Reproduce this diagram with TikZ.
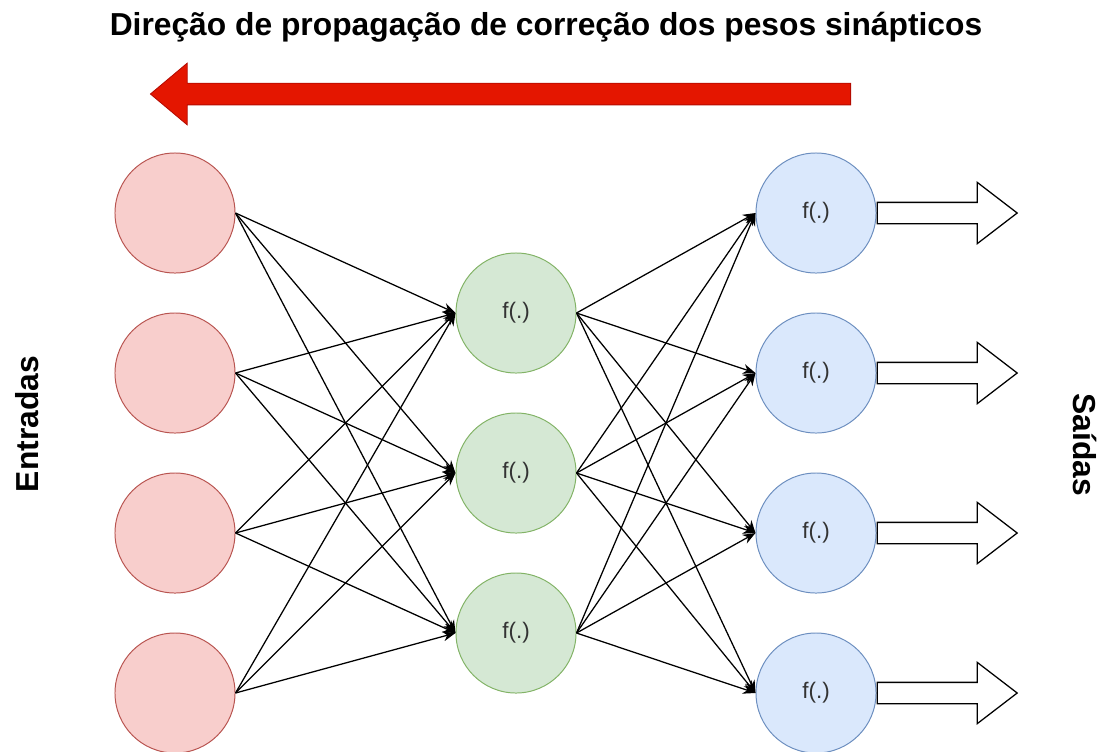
\documentclass[tikz,border=0pt]{standalone}
\usepackage{fontspec}
\setmainfont{Liberation Sans}
\definecolor{infill}{HTML}{F8CECC}
\definecolor{inline}{HTML}{B85450}
\definecolor{hidfill}{HTML}{D5E8D4}
\definecolor{hidline}{HTML}{82B366}
\definecolor{outfill}{HTML}{DAE8FC}
\definecolor{outline}{HTML}{6C8EBF}
\definecolor{arrowred}{RGB}{228, 22, 0}
\definecolor{arrowedge}{RGB}{180, 10, 0}
\definecolor{ftext}{HTML}{333333}
\usetikzlibrary{shapes.arrows, arrows.meta, positioning}

\tikzset{
  neuron/.style={circle, draw, minimum size=3cm, inner sep=0pt, line width=0.7pt,
    font=\fontsize{16}{18}\selectfont, text=ftext},
  inneuron/.style={neuron, fill=infill, draw=inline},
  hidneuron/.style={neuron, fill=hidfill, draw=hidline},
  outneuron/.style={neuron, fill=outfill, draw=outline},
  syn/.style={-{Stealth[length=9pt, width=7pt]}, line width=0.9pt},
  heading/.style={font=\fontsize{22.6}{26}\selectfont\bfseries},
  outarrow/.style={single arrow, draw, fill=white, line width=0.9pt, inner sep=0.25cm,
    minimum height=3.5cm, minimum width=1.5cm, single arrow head extend=0.5cm,
    single arrow tip angle=75, anchor=tail},
}

\begin{document}
\begin{tikzpicture}[x=0.025cm, y=-0.025cm]
  \useasboundingbox (0,0) rectangle (1103,751);

  % Title and direction arrow
  \node[heading, anchor=base] (titulo) at (546, 35) {Direção de propagação de correção dos pesos sinápticos};
  \node[single arrow, fill=arrowred, draw=arrowedge, line width=0.6pt, inner sep=0.26cm,
    minimum height=17.5cm, minimum width=1.5cm, single arrow head extend=0.5cm,
    single arrow tip angle=80, shape border rotate=180] (direcao) at (507, 94) {};

  % Side labels
  \node[heading, rotate=90] (entradas) at (27, 424) {Entradas};
  \node[heading, rotate=-90] (saidas) at (1085, 445) {Saídas};

  % Inputs
  \node[inneuron] (i1) at (175, 213) {};
  \node[inneuron] (i2) at (175, 373) {};
  \node[inneuron] (i3) at (175, 533) {};
  \node[inneuron] (i4) at (175, 693) {};

  % Hidden layer
  \node[hidneuron] (h1) at (516, 313) {f(.)};
  \node[hidneuron] (h2) at (516, 473) {f(.)};
  \node[hidneuron] (h3) at (516, 633) {f(.)};

  % Outputs
  \node[outneuron] (o1) at (816, 213) {f(.)};
  \node[outneuron] (o2) at (816, 373) {f(.)};
  \node[outneuron] (o3) at (816, 533) {f(.)};
  \node[outneuron] (o4) at (816, 693) {f(.)};

  % Input -> hidden
  \draw[syn] (i1.east) -- (h1.west);
  \draw[syn] (i1.east) -- (h2.west);
  \draw[syn] (i1.east) -- (h3.west);
  \draw[syn] (i2.east) -- (h1.west);
  \draw[syn] (i2.east) -- (h2.west);
  \draw[syn] (i2.east) -- (h3.west);
  \draw[syn] (i3.east) -- (h1.west);
  \draw[syn] (i3.east) -- (h2.west);
  \draw[syn] (i3.east) -- (h3.west);
  \draw[syn] (i4.east) -- (h1.west);
  \draw[syn] (i4.east) -- (h2.west);
  \draw[syn] (i4.east) -- (h3.west);

  % Hidden -> output
  \draw[syn] (h1.east) -- (o1.west);
  \draw[syn] (h1.east) -- (o2.west);
  \draw[syn] (h1.east) -- (o3.west);
  \draw[syn] (h1.east) -- (o4.west);
  \draw[syn] (h2.east) -- (o1.west);
  \draw[syn] (h2.east) -- (o2.west);
  \draw[syn] (h2.east) -- (o3.west);
  \draw[syn] (h2.east) -- (o4.west);
  \draw[syn] (h3.east) -- (o1.west);
  \draw[syn] (h3.east) -- (o2.west);
  \draw[syn] (h3.east) -- (o3.west);
  \draw[syn] (h3.east) -- (o4.west);

  % Output arrows
  \node[outarrow] (s1) at (o1.east) {};
  \node[outarrow] (s2) at (o2.east) {};
  \node[outarrow] (s3) at (o3.east) {};
  \node[outarrow] (s4) at (o4.east) {};
\end{tikzpicture}
\end{document}
